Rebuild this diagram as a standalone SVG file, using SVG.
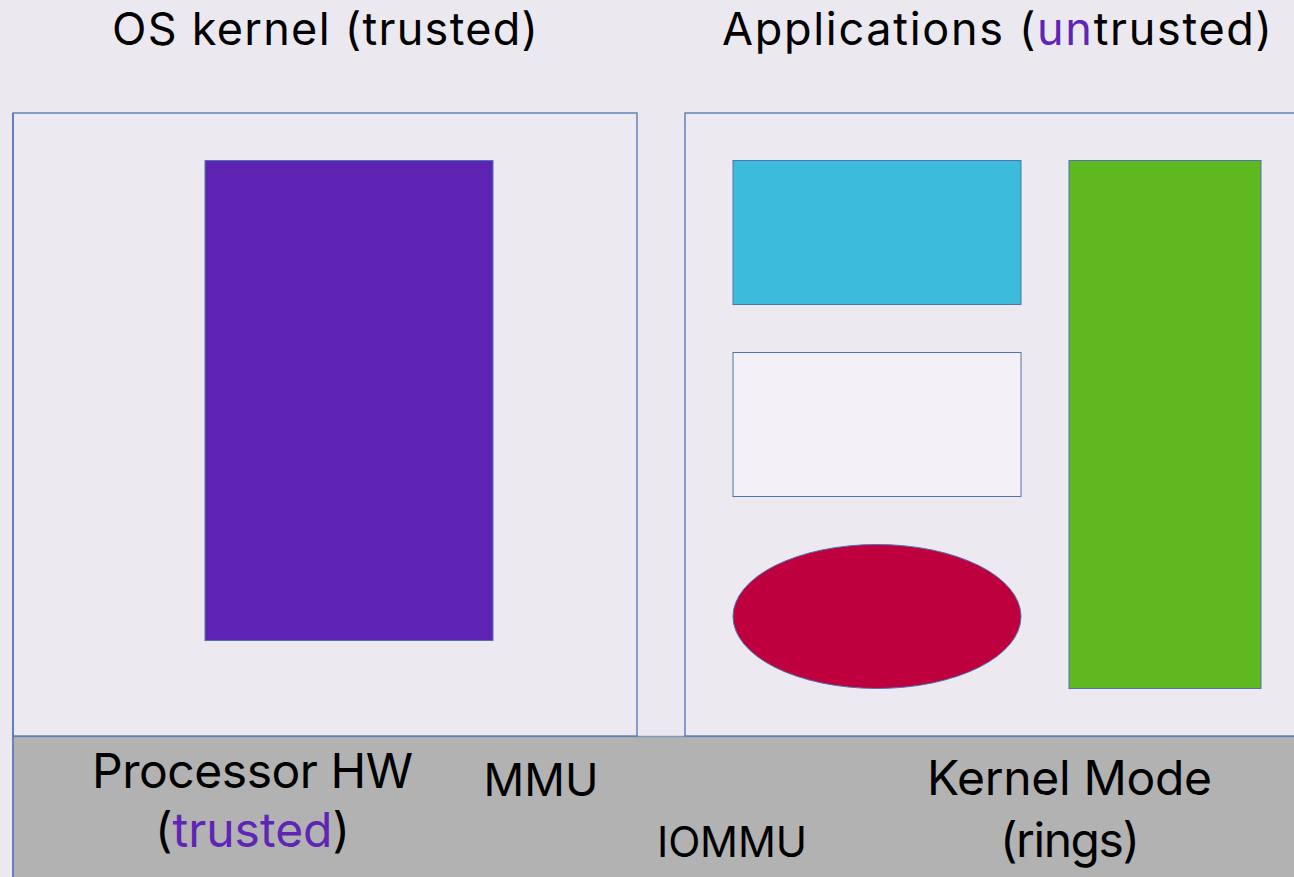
<svg xmlns="http://www.w3.org/2000/svg" width="1294" height="877" viewBox="0 0 1294 877">
<style>
.t{font-family:Inter,"Noto Sans","Liberation Sans",sans-serif;fill:#000;font-size:48px}
.h{font-size:45px}
.p{fill:#5F25B5}
.panel{fill:#ECE9F1;stroke:#4F74AE;stroke-width:1.3}
.blk{stroke:#4F74AE;stroke-width:1}
</style>
<rect x="0" y="0" width="1294" height="877" fill="#EBE8F0"/>
<g id="hw-band">
<rect x="13" y="736.5" width="1290" height="150" fill="#B2B2B2" stroke="#8196BA" stroke-width="1.5"/>
</g>
<g id="kernel-panel">
<rect class="panel" x="13" y="113" width="624" height="623"/>
<line x1="13" y1="113" x2="13" y2="877" stroke="#4F74AE" stroke-width="1.3"/>
</g>
<g id="apps-panel">
<rect class="panel" x="685" y="113" width="620" height="623"/>
</g>
<g id="kernel-block"><rect class="blk" x="205" y="160.5" width="288" height="480" fill="#5D24B3"/></g>
<g id="app-cyan"><rect class="blk" x="733" y="160.5" width="288" height="144" fill="#3DBBDB"/></g>
<g id="app-white"><rect class="blk" x="733" y="352.5" width="288" height="144" fill="#F3F0F8"/></g>
<g id="app-ellipse"><ellipse class="blk" cx="877" cy="616.5" rx="144" ry="72" fill="#BF003F"/></g>
<g id="app-green"><rect class="blk" x="1069" y="160.5" width="192" height="528" fill="#5EB820"/></g>
<g id="connectors"></g>
<g id="labels">
<text class="t h" x="325" y="45" text-anchor="middle" textLength="426">OS kernel (trusted)</text>
<text class="t h" x="997" y="45" text-anchor="middle" textLength="550">Applications (<tspan class="p">un</tspan>trusted)</text>
<text class="t" x="252.5" y="788" text-anchor="middle" textLength="321">Processor HW</text>
<text class="t" x="252.5" y="847" text-anchor="middle" textLength="195">(<tspan class="p">trusted</tspan>)</text>
<text class="t" x="541" y="796" text-anchor="middle" style="font-size:45px">MMU</text>
<text class="t" x="732" y="857" text-anchor="middle" style="font-size:42px" textLength="150">IOMMU</text>
<text class="t" x="1069.5" y="795" text-anchor="middle" textLength="285">Kernel Mode</text>
<text class="t" x="1070" y="857" text-anchor="middle" textLength="140">(rings)</text>
</g>
</svg>
